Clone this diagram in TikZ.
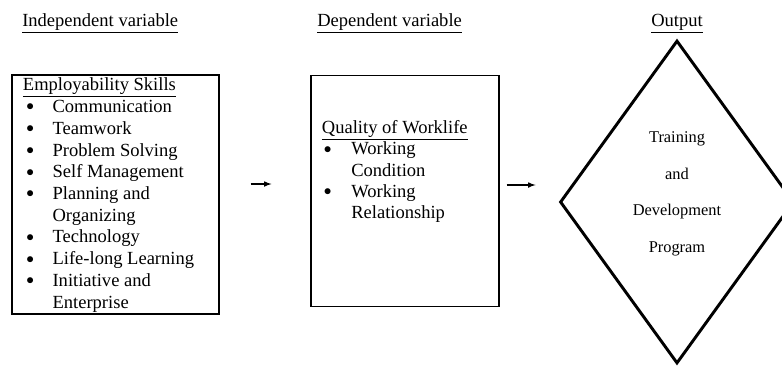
\documentclass[tikz,border=0pt]{standalone}
\usepackage{fontspec}
\setmainfont{Liberation Serif}
\usepackage{array}
\usetikzlibrary{shapes.geometric, arrows}
\newcommand{\dotmark}{\raisebox{1.2pt}{\scalebox{0.8}{$\bullet$}}}
\tikzstyle{heading} = [anchor=base west, inner sep=0pt, font=\fontsize{13.9}{16}\selectfont]
\tikzstyle{varbox} = [rectangle, draw=black, line width=0.8pt]
\tikzstyle{listtext} = [anchor=base west, inner sep=0pt, align=left]
\tikzstyle{outputshape} = [diamond, draw=black, line width=2.2pt, inner sep=0pt]
\tikzstyle{outputtext} = [align=center, inner sep=0pt, font=\fontsize{12.3}{27.4}\selectfont]
\tikzstyle{arrow} = [line width=0.9pt,->,>=latex]

\begin{document}
\begin{tikzpicture}[x=0.75pt, y=-0.75pt]
        \useasboundingbox (0,0) rectangle (782,365);
        \node (indep) [heading] at (22,26) {\underline{Independent variable}};
        \node (dep) [heading] at (317,26) {\underline{Dependent variable}};
        \node (out) [heading] at (651,26) {\underline{Output}};
        \node (skills) [varbox, minimum width=155.25pt, minimum height=179.25pt] at (115.5,194.5) {};
        \node (skillslist) [listtext] at (22.7,90.7) {\fontsize{13.9}{16.3}\selectfont
          \begin{tabular}[t]{@{\hspace{2.5pt}}p{19.7pt}@{}l@{}}
            \multicolumn{2}{@{}l@{}}{\underline{Employability Skills}}\\
            \dotmark & Communication\\
            \dotmark & Teamwork\\
            \dotmark & Problem Solving\\
            \dotmark & Self Management\\
            \dotmark & Planning and\\
                     & Organizing\\
            \dotmark & Technology\\
            \dotmark & Life-long Learning\\
            \dotmark & Initiative and\\
                     & Enterprise
          \end{tabular}};
        \node (quality) [varbox, minimum width=141pt, minimum height=173.8pt] at (405,190.9) {};
        \node (qualitylist) [listtext] at (321.7,133.3) {\fontsize{13.9}{15.9}\selectfont
          \begin{tabular}[t]{@{\hspace{1.5pt}}p{20.5pt}@{}l@{}}
            \multicolumn{2}{@{}l@{}}{\underline{Quality of Worklife}}\\
            \dotmark & Working\\
                     & Condition\\
            \dotmark & Working\\
                     & Relationship
          \end{tabular}};
        \node (output) [outputshape, minimum width=175.5pt, minimum height=242.25pt] at (677,202) {};
        \node (program) [outputtext] at (677,194) {Training\\and\\Development\\Program};
        \draw [arrow, shorten <=23.25pt, shorten >=29.25pt] (skills.east |- 0,184) -- (quality.west |- 0,184);
        \draw [arrow, shorten <=5.25pt, shorten >=17.25pt] (quality.east |- 0,185) -- (output.west |- 0,185);
\end{tikzpicture}
\end{document}
